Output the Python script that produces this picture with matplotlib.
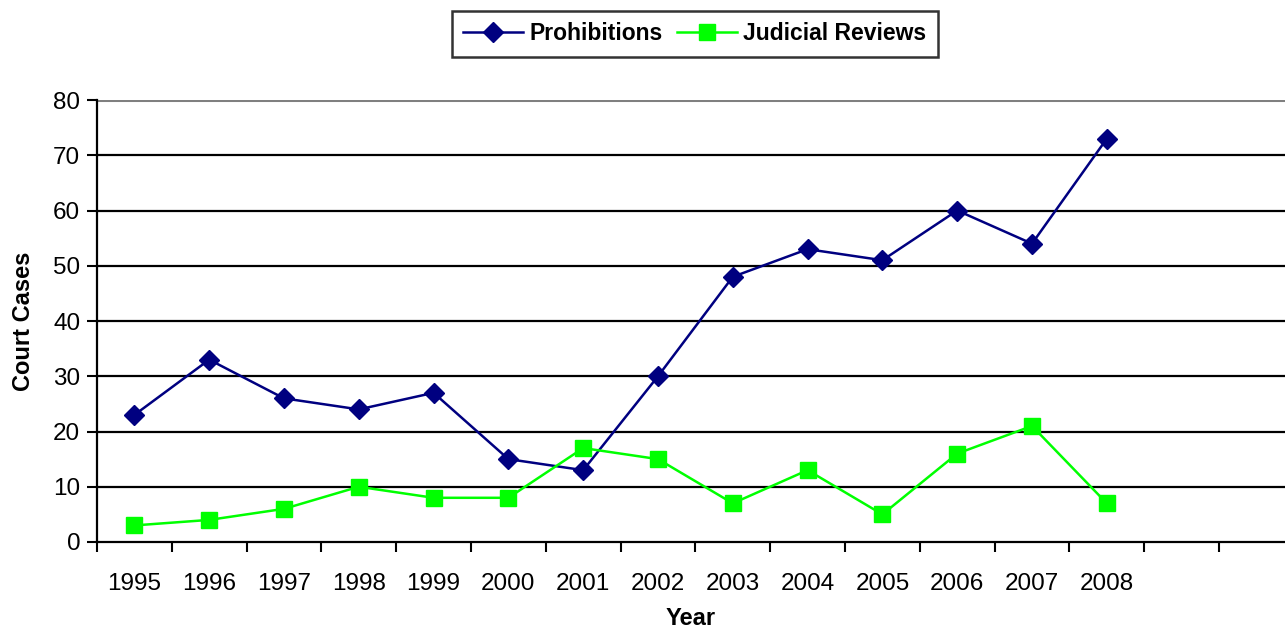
import numpy as np
import matplotlib
matplotlib.use("Agg")
import matplotlib.pyplot as plt

plt.rcParams['font.family'] = ['Liberation Sans', 'DejaVu Sans']

# data
years = ['1995', '1996', '1997', '1998', '1999', '2000', '2001',
         '2002', '2003', '2004', '2005', '2006', '2007', '2008']
prohibitions = [23, 33, 26, 24, 27, 15, 13, 30, 48, 53, 51, 60, 54, 73]
judicial_reviews = [3, 4, 6, 10, 8, 8, 17, 15, 7, 13, 5, 16, 21, 7]
y_ticks = [0, 10, 20, 30, 40, 50, 60, 70, 80]
n_slots = 16  # category axis has two empty slots after 2008

fig = plt.figure(figsize=(12.85, 6.3), dpi=100)
ax = fig.add_axes([97 / 1285, 88 / 630, 1 - 97 / 1285, 442 / 630])

x = np.arange(len(years))
ax.plot(x, prohibitions, color='#000080', lw=1.8, marker='D', ms=10,
        label='Prohibitions', zorder=3)
ax.plot(x, judicial_reviews, color='#00FF00', lw=1.8, marker='s', ms=11,
        label='Judicial Reviews', zorder=3)

ax.set_ylim(0, 80)
ax.set_xlim(-0.5, -0.5 + 1188 / 74.8)
ax.set_yticks(y_ticks)
for v in y_ticks[1:]:
    ax.axhline(v, color='#808080' if v == 80 else 'black',
               lw=2.2 if v == 80 else 1.6, zorder=1)

ax.set_xticks(np.arange(n_slots) - 0.5)
ax.set_xticklabels([])
ax.set_xticks(x, labels=years, minor=True)
ax.tick_params(axis='x', which='major', length=7, width=1.5, direction='out')
ax.tick_params(axis='x', which='minor', length=0, pad=22, labelsize=17.5)
ax.tick_params(axis='y', length=7, width=1.5, labelsize=17.5, pad=5)

for s in ['top', 'right']:
    ax.spines[s].set_visible(False)
for s in ['left', 'bottom']:
    ax.spines[s].set_linewidth(1.6)

ax.set_xlabel('Year', fontsize=17, fontweight='bold', labelpad=9)
ax.set_ylabel('Court Cases', fontsize=17, fontweight='bold', labelpad=13)

leg = fig.legend(loc='center', bbox_to_anchor=(695 / 1285, 1 - 34 / 630), ncol=2,
                 frameon=True, fancybox=False, edgecolor='black',
                 prop={'size': 16.5, 'weight': 'bold'}, handlelength=2.6,
                 columnspacing=0.6, handletextpad=0.3, borderpad=0.5)
leg.get_frame().set_linewidth(1.8)

fig.savefig('out.png', dpi=100)
